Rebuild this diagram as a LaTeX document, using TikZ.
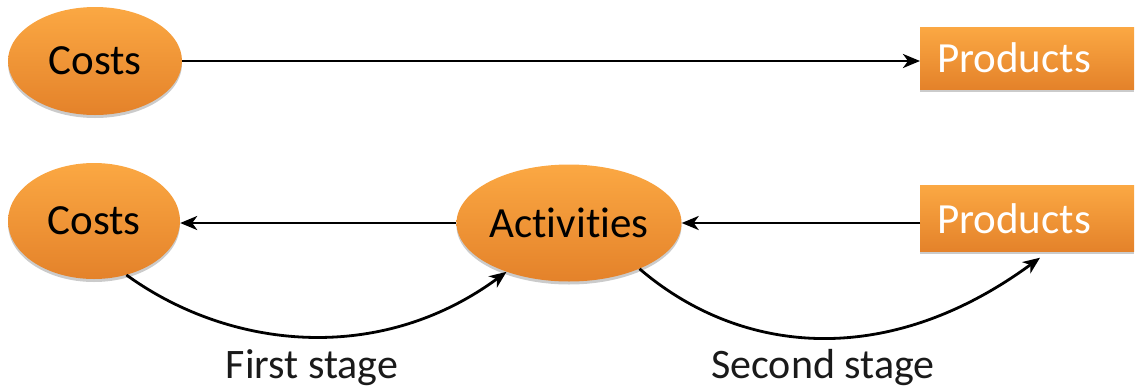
\documentclass[tikz,border=0pt]{standalone}
\usepackage{fontspec}
\setmainfont{Carlito}[Ligatures=CommonOff]
\usetikzlibrary{shapes.geometric,arrows.meta,shadows,calc}
\definecolor{orTop}{HTML}{FBA843}
\definecolor{orBot}{HTML}{E4822A}
\definecolor{lbl}{HTML}{1A1A1A}
\tikzset{
  blob/.style={ellipse, inner sep=0pt, top color=orTop, bottom color=orBot,
    drop shadow={shadow xshift=0pt, shadow yshift=-3pt, fill=black!45, opacity=0.45},
    font=\fontsize{43}{50}\selectfont, text=black},
  prodbox/.style={rectangle, inner sep=0pt, inner xsep=17pt, anchor=west,
    minimum width=214pt, text width=180pt, align=left,
    top color=orTop, bottom color=orBot,
    drop shadow={shadow xshift=0pt, shadow yshift=-2.5pt, fill=black!45, opacity=0.45},
    font=\fontsize{43}{50}\selectfont, text=white},
  conn/.style={line width=2.8pt, draw=black, -{Stealth[length=17pt,width=14pt,inset=5pt]}},
  stagelbl/.style={anchor=base, font=\fontsize{42}{49}\selectfont, text=lbl}
}
\begin{document}
\begin{tikzpicture}[x=1pt,y=-1pt]
\useasboundingbox (0,0) rectangle (1136,389);
\node[blob, minimum width=174pt, minimum height=108pt] (c1) at (95,61) {Costs};
\node[blob, minimum width=172pt, minimum height=116pt] (c2) at (94,221) {Costs};
\node[blob, minimum width=218pt, minimum height=117pt] (act) at (569,223) {Activities};
\node[prodbox, minimum height=62pt] (p1) at (920,58) {Products};
\node[prodbox, minimum height=66pt] (p2) at (920,218.5) {Products};
\node[stagelbl] (s1) at (312,378) {First stage};
\node[stagelbl] (s2) at (823,378) {Second stage};
\draw[conn] (c1.east) -- (c1.east -| p1.west);
\draw[conn] (act.west) -- (act.west -| c2.east);
\draw[conn] (act.east -| p2.west) -- (act.east);
\draw[conn] (c2.-59) .. controls (230,350) and (380,365) .. (act.-142);
\draw[conn] (act.-33.5) .. controls (740,355) and (887,370) .. ($(p2.south west)+(120,6)$);
\end{tikzpicture}
\end{document}
